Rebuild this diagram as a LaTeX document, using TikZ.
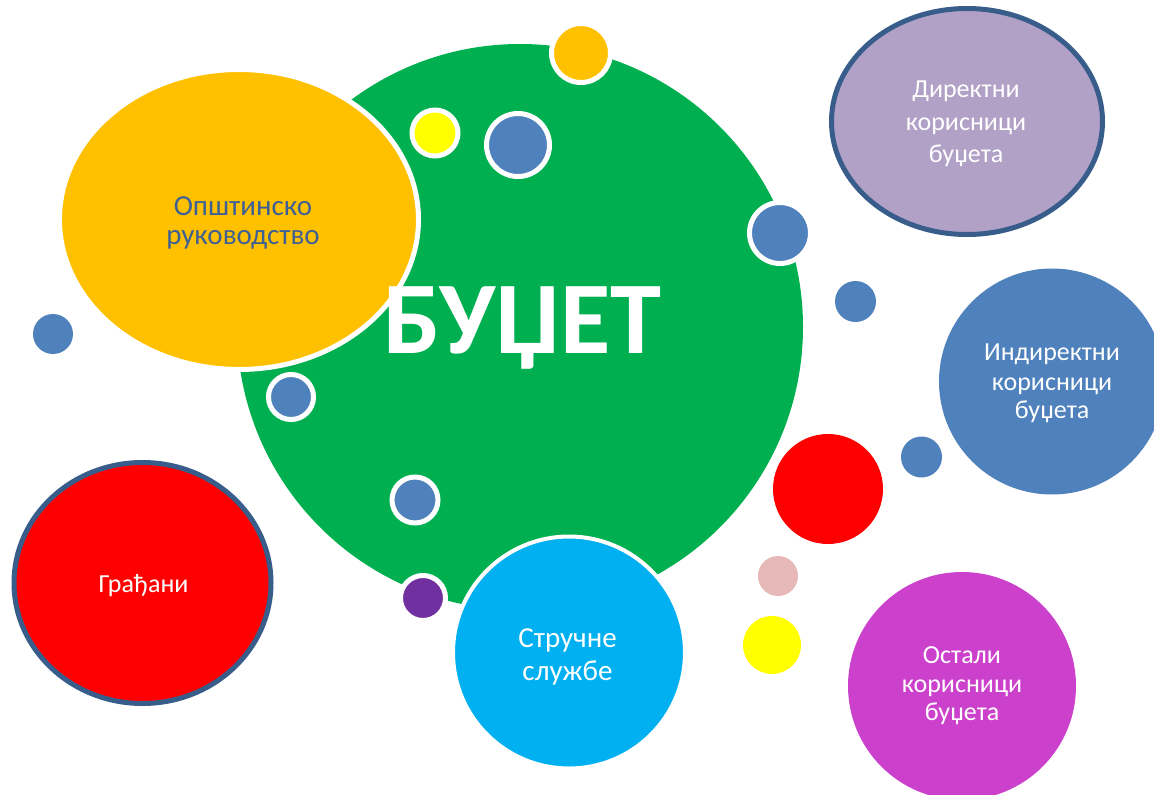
\documentclass[tikz,border=0pt]{standalone}
\usepackage{fontspec}
\setmainfont{Carlito}
\definecolor{cgreen}{HTML}{00B050}
\definecolor{corange}{HTML}{FFC000}
\definecolor{cblue}{HTML}{4F81BD}
\definecolor{cyellow}{HTML}{FFFF00}
\definecolor{cpurple}{HTML}{7030A0}
\definecolor{ccyan}{HTML}{00B0F0}
\definecolor{cred}{HTML}{FF0000}
\definecolor{clav}{HTML}{B2A1C7}
\definecolor{cborder}{HTML}{385D8A}
\definecolor{cpink}{HTML}{E6B9B8}
\definecolor{cmag}{RGB}{204,65,204}
\definecolor{ctext}{RGB}{62,96,148}
\begin{document}
\begin{tikzpicture}[x=1pt,y=-1pt,
  wring/.style={draw=white,line width=5pt},
  bring/.style={draw=cborder,line width=5pt},
  lbl/.style={anchor=base,inner sep=0pt,text=white,font=\fontsize{26}{26}\selectfont},
  lblb/.style={lbl,font=\fontsize{29}{29}\selectfont},
]
\useasboundingbox (0,0) rectangle (1154,795);
\clip (0,0) rectangle (1154,795);
\fill[white] (0,0) rectangle (1154,795);
% big green
\fill[cgreen] (520,327) circle[radius=283pt];
% municipal leadership
\path[fill=corange,wring] (239,219.5) ellipse[x radius=179.5pt,y radius=150pt];
% small circles on green
\path[fill=corange,wring] (581,53) circle[radius=29.5pt];
\path[fill=cyellow,wring] (435,133) circle[radius=23pt];
\path[fill=cblue,wring] (518,145) circle[radius=31.5pt];
\path[fill=cblue,wring] (780,233) circle[radius=30.5pt];
\path[fill=cblue,wring] (291,397) circle[radius=22.5pt];
\path[fill=cblue,wring] (415,500) circle[radius=23pt];
\path[fill=cpurple,wring] (423,598) circle[radius=22.5pt];
% expert services
\path[fill=ccyan,draw=white,line width=4pt] (569,652.5) circle[radius=116pt];
% free circles
\fill[cblue] (53,334) circle[radius=20pt];
\fill[cblue] (855.5,301.5) circle[radius=20.5pt];
\fill[cred] (828,489) circle[radius=55pt];
\fill[cblue] (921.5,457) circle[radius=20.5pt];
\fill[cpink] (778,576) circle[radius=20pt];
\fill[cyellow] (772,645) circle[radius=29pt];
\fill[cblue] (1052,381.5) circle[radius=113pt];
\fill[cmag] (962,686) circle[radius=114pt];
% bordered
\path[fill=clav,bring] (967,121.5) ellipse[x radius=135.5pt,y radius=113pt];
\path[fill=cred,bring] (142.5,583) ellipse[x radius=128.5pt,y radius=120.5pt];
% texts
\node[anchor=base,inner sep=0pt,text=white,font=\bfseries\fontsize{103}{103}\selectfont] (budzet) at (522.5,353) {БУЏЕТ};
\node[lblb,text=ctext] (op1) at (243,215) {Општинско};
\node[lblb,text=ctext] (op2) at (243,244) {руководство};
\node[lbl] (dir1) at (966,97) {Директни};
\node[lbl] (dir2) at (966,130) {корисници};
\node[lbl] (dir3) at (966,162) {буџета};
\node[lbl] (ind1) at (1052,360) {Индиректни};
\node[lbl] (ind2) at (1052,390) {корисници};
\node[lbl] (ind3) at (1052,418) {буџета};
\node[lbl] (ost1) at (962,663) {Остали};
\node[lbl] (ost2) at (962,692) {корисници};
\node[lbl] (ost3) at (962,720) {буџета};
\node[lblb] (str1) at (567.5,647) {Стручне};
\node[lblb] (str2) at (567.5,680) {службе};
\node[lbl] (gra) at (143.5,592) {Грађани};
\end{tikzpicture}
\end{document}
